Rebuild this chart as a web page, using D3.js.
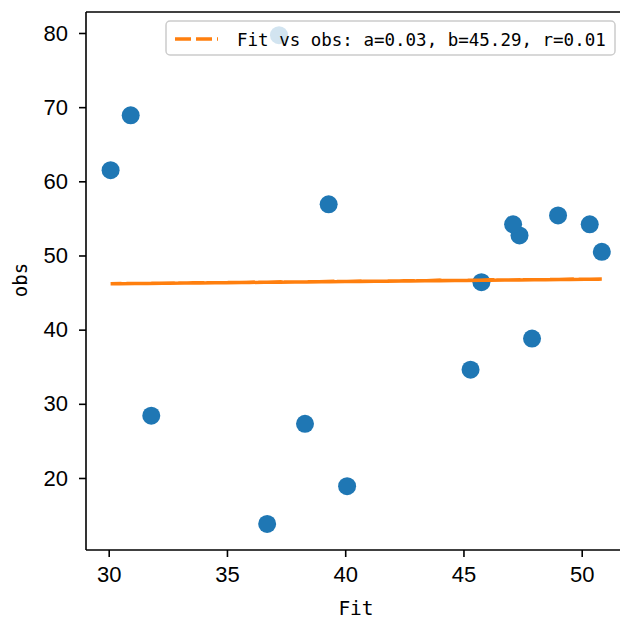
<!DOCTYPE html>
<html><head><meta charset="utf-8">
<script src="https://cdn.jsdelivr.net/npm/d3@7"></script>
<style>body{margin:0;background:#fff}svg{display:block}</style>
</head><body><svg id="c" width="620" height="619"></svg>
<script>
// data (in plotting order)
const fitVals = [45.76, 30.08, 47.90, 36.70, 50.85, 38.30, 30.93, 47.37, 40.08, 49.00, 31.80, 45.30, 39.30, 50.34, 37.20, 47.10];
const obsVals = [46.4, 61.5, 38.8, 13.8, 50.5, 27.3, 68.9, 52.7, 18.9, 55.4, 28.4, 34.6, 56.9, 54.2, 79.7, 54.2];
const xTicks = [30, 35, 40, 45, 50];
const yTicks = [20, 30, 40, 50, 60, 70, 80];
const fitA = 0.03, fitB = 45.29, fitR = 0.01;
const legendLabel = "Fit vs obs: a=0.03, b=45.29, r=0.01";
const xLabel = "Fit", yLabel = "obs";

const svg = d3.select("#c");
const L = 86, T = 12, B = 550;
const x = d3.scaleLinear().domain([29.04, 51.89]).range([L, L + 22.85 * 23.65]);
const y = d3.scaleLinear().domain([10.29, 82.83]).range([B, T]);

const tickFont = "'Liberation Sans', Arial, sans-serif";
const monoFont = "'DejaVu Sans Mono', monospace";

// points
svg.append("g").selectAll("circle").data(fitVals).join("circle")
  .attr("cx", d => x(d)).attr("cy", (d, i) => y(obsVals[i]))
  .attr("r", 9).attr("fill", "#1f77b4");

// fit line through points in plotting order
const lineData = fitVals.map(v => [v, fitA * v + fitB]);
svg.append("path").datum(lineData)
  .attr("d", d3.line().x(d => x(d[0])).y(d => y(d[1])))
  .attr("fill", "none").attr("stroke", "#ff7f0e").attr("stroke-width", 3.5)
  .attr("stroke-dasharray", "15,5");

// axes
const xAxis = svg.append("g").attr("transform", `translate(0,${B})`)
  .call(d3.axisBottom(x).tickValues(xTicks).tickSize(7).tickPadding(9).tickFormat(d3.format("d")));
const yAxis = svg.append("g").attr("transform", `translate(${L},0)`)
  .call(d3.axisLeft(y).tickValues(yTicks).tickSize(7).tickPadding(11).tickFormat(d3.format("d")));
[xAxis, yAxis].forEach(g => {
  g.select(".domain").remove();
  g.selectAll(".tick line").attr("stroke", "#000").attr("stroke-width", 1.6);
  g.selectAll(".tick text").attr("fill", "#000").style("font-family", tickFont).style("font-size", "22px");
});
// spines
svg.append("line").attr("x1", L).attr("x2", L).attr("y1", T).attr("y2", B).attr("stroke", "#000").attr("stroke-width", 1.6);
svg.append("line").attr("x1", L).attr("x2", 640).attr("y1", B).attr("y2", B).attr("stroke", "#000").attr("stroke-width", 1.6);
svg.append("line").attr("x1", L).attr("x2", 640).attr("y1", T).attr("y2", T).attr("stroke", "#000").attr("stroke-width", 1.6);

// labels
svg.append("text").attr("x", 356).attr("y", 615).attr("text-anchor", "middle")
  .style("font-family", monoFont).style("font-size", "19.5px").text(xLabel);
svg.append("text").attr("transform", `translate(27,280) rotate(-90)`).attr("text-anchor", "middle")
  .style("font-family", monoFont).style("font-size", "19px").text(yLabel);

// legend
const lg = svg.append("g");
lg.append("rect").attr("x", 166).attr("y", 21).attr("width", 449).attr("height", 34).attr("rx", 4)
  .attr("fill", "#fff").attr("fill-opacity", 0.8).attr("stroke", "#cccccc").attr("stroke-width", 1.5);
lg.append("line").attr("x1", 175).attr("x2", 218).attr("y1", 39).attr("y2", 39)
  .attr("stroke", "#ff7f0e").attr("stroke-width", 3.5).attr("stroke-dasharray", "16,5");
lg.append("text").attr("x", 237).attr("y", 45.5)
  .style("font-family", monoFont).style("font-size", "17.5px").attr("fill", "#000").text(legendLabel);
</script></body></html>
